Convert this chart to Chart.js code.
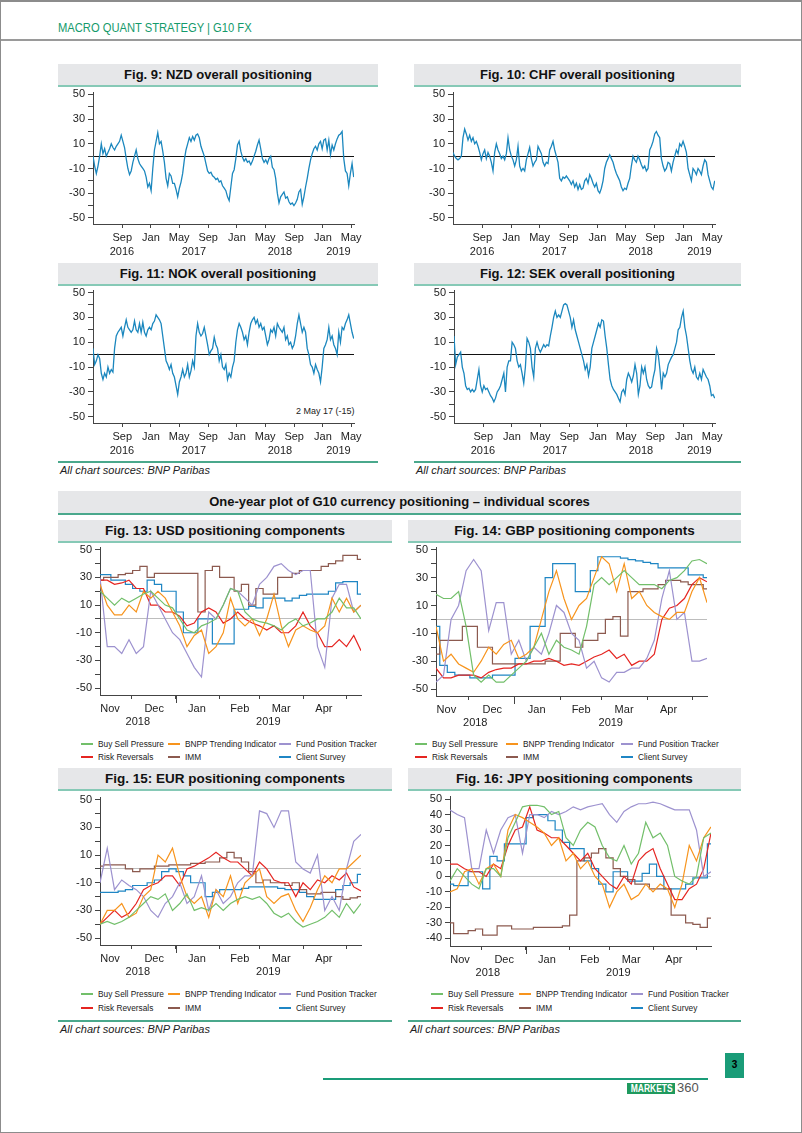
<!DOCTYPE html>
<html><head><meta charset="utf-8">
<script src="https://cdn.jsdelivr.net/npm/chart.js@4.4.1/dist/chart.umd.min.js"></script>
<style>
html,body{margin:0;padding:0;background:#fff;}
#page{position:relative;width:802px;height:1133px;overflow:hidden;font-family:"Liberation Sans",Arial,sans-serif;color:#222;}
#frame{position:absolute;left:0;top:0;width:802px;height:1133px;box-sizing:border-box;border:1px solid #8c8c8c;border-top:2px solid #8c8c8c;pointer-events:none;}
.ttl{position:absolute;background:#e6e7e9;border-bottom:2px solid #86c9b6;font-weight:bold;font-size:13px;color:#111;text-align:center;box-sizing:border-box;line-height:21px;white-space:nowrap;}
.hline{position:absolute;height:1.5px;background:#4aa88c;}
.src{position:absolute;font-style:italic;font-size:11px;color:#222;white-space:nowrap;}
.leg{position:absolute;font-size:8.3px;line-height:12px;white-space:nowrap;color:#222;}
.dash{display:inline-block;width:12px;height:2px;vertical-align:middle;margin-right:5px;position:relative;top:-1px;}
canvas{position:absolute;}
</style>
</head><body>
<div id="page">
  <div style="position:absolute;left:58px;top:20px;font-size:13px;color:#149a6b;transform:scaleX(0.86);transform-origin:left top;white-space:nowrap;">MACRO QUANT STRATEGY | G10 FX</div>
  <div style="position:absolute;left:0;top:39px;width:802px;height:1.5px;background:#9a9a9a;"></div>

  <div class="ttl" style="left:58px;top:64px;width:320px;height:23px;">Fig. 9: NZD overall positioning</div>
  <div class="ttl" style="left:414px;top:64px;width:327px;height:23px;">Fig. 10: CHF overall positioning</div>
  <div class="ttl" style="left:58px;top:263px;width:320px;height:23px;">Fig. 11: NOK overall positioning</div>
  <div class="ttl" style="left:414px;top:263px;width:327px;height:23px;">Fig. 12: SEK overall positioning</div>
  <div style="position:absolute;left:296px;top:406px;font-size:9px;color:#222;">2 May 17 (-15)</div>

  <div class="hline" style="left:58px;top:461px;width:320px;"></div>
  <div class="hline" style="left:414px;top:461px;width:327px;"></div>
  <div class="src" style="left:60px;top:464px;">All chart sources: BNP Paribas</div>
  <div class="src" style="left:416px;top:464px;">All chart sources: BNP Paribas</div>

  <div class="ttl" style="left:58px;top:491px;width:683px;height:24px;line-height:22px;border-bottom-color:#4aa88c;">One-year plot of G10 currency positioning – individual scores</div>

  <div class="ttl" style="left:58px;top:520px;width:334px;height:23px;font-size:13.5px;">Fig. 13: USD positioning components</div>
  <div class="ttl" style="left:408px;top:520px;width:333px;height:23px;font-size:13.5px;">Fig. 14: GBP positioning components</div>
  <div class="ttl" style="left:58px;top:768px;width:334px;height:23px;font-size:13.5px;">Fig. 15: EUR positioning components</div>
  <div class="ttl" style="left:408px;top:768px;width:333px;height:23px;font-size:13.5px;">Fig. 16: JPY positioning components</div>

  <div class="hline" style="left:58px;top:1020px;width:334px;"></div>
  <div class="hline" style="left:408px;top:1020px;width:333px;"></div>
  <div class="src" style="left:60px;top:1023px;">All chart sources: BNP Paribas</div>
  <div class="src" style="left:410px;top:1023px;">All chart sources: BNP Paribas</div>

  <div style="position:absolute;left:323px;top:1078px;width:385px;height:1.5px;background:#1a9c78;"></div>
  <div style="position:absolute;left:725px;top:1053px;width:19px;height:25px;background:#1a9c78;color:#000;font-weight:bold;font-size:10px;text-align:center;line-height:24px;">3</div>
  <div style="position:absolute;left:627px;top:1083px;width:48px;height:11px;background:#1f9a5e;color:#fff;font-weight:bold;font-size:10px;line-height:11px;text-align:center;overflow:hidden;"><span style="display:inline-block;transform:scaleX(0.85);">MARKETS</span></div>
  <div style="position:absolute;left:677px;top:1080px;font-size:13px;color:#555;">360</div>
  <div id="frame"></div>
</div>
<script>
// ---------------- DATA ----------------
// Overall positioning (weekly readings, start ~30 Apr 2016)
const NZD_VALUES = [0,-8,-14,-8,0,10,2,6,0,3, 6,10,7,5,8,10,12,17,12,7, -2,-10,-15,-12,-5,0,5,-2,-6,-8,
 -10,-12,-17,-25,-22,-28,-10,5,12,19, 10,12,4,-5,-18,-24,-14,-16,-22,-22, -27,-33,-26,-21,-14,-3,5,10,15,12,
 16,13,17,18,15,8,4,0,-6,-12, -14,-13,-16,-17,-19,-18,-21,-20,-24,-26, -28,-33,-36,-25,-14,-11,-2,9,12,4,
 -1,-4,-2,-5,-4,-7,-4,0,4,9, 13,6,-2,-5,-3,-6,-2,0,-9,-11, -18,-30,-38,-33,-31,-29,-34,-33,-37,-39,
 -38,-40,-38,-35,-29,-27,-39,-33,-25,-18, -10,-3,2,6,8,5,10,12,6,13, 14,5,13,1,9,5,10,14,17,18, 20,-2,-12,-14,-24,-14,-6,-17];
const CHF_VALUES = [3,0,-2,-3,-2,0,15,22,18,13, 17,12,15,10,12,8,3,-3,2,5, -2,3,0,-5,-12,3,10,5,2,-2,
 0,-3,2,15,5,0,-3,-8,-3,8, -8,-12,-10,-12,-3,2,7,-2,-8,-5, -3,8,5,2,-5,-8,-5,-6,5,8,
 12,5,0,-5,-18,-20,-17,-18,-16,-18, -20,-23,-20,-25,-22,-27,-23,-27,-26,-20, -18,-22,-15,-18,-22,-25,-22,-28,-30,-26,
 -20,-10,-5,-2,1,-2,-5,-10,-14,-17, -20,-25,-28,-26,-27,-22,-18,-8,0,-3, -5,0,-3,-7,-10,-8,-12,-10,5,8,
 12,18,20,17,15,-2,-8,-12,-10,-5, -6,-12,-5,0,5,2,10,8,12,8, 3,-10,-15,-20,-10,-12,-15,-10,-12,-15, -8,-3,-5,-15,-20,-25,-27,-20];
const NOK_VALUES = [5,-8,-5,0,-3,-15,-20,-15,-18,-10, -15,-12,-14,5,15,18,20,22,15,22, 28,22,20,18,20,27,20,18,25,18,
 26,18,15,20,22,20,25,27,32,30, 28,25,15,5,-5,-8,-12,-8,-15,-18, -25,-32,-22,-18,-12,-18,-15,-8,-18,-13,
 -5,-10,15,25,18,15,17,22,15,8, 0,3,5,14,8,5,-5,0,-10,-12, -8,-20,-15,-18,-10,-5,10,20,25,22,
 18,12,15,8,18,25,28,30,25,28, 22,25,20,22,15,8,12,20,18,22, 15,25,22,20,18,22,12,15,8,10,
 5,8,15,25,32,25,18,22,18,5, 0,-8,-10,-15,-8,-12,-15,-22,-10,5, 8,12,22,12,15,8,5,0,18,10, 22,20,25,28,32,25,18,13];
const SEK_VALUES = [15,-8,-2,0,2,-10,-15,-25,-28,-27, -30,-28,-30,-28,-20,-12,-25,-30,-25,-28, -27,-30,-33,-35,-38,-35,-30,-28,-25,-20,
 -15,-30,-10,-5,-5,10,8,5,-5,-10, -8,-15,-23,-10,13,10,5,-10,-18,5, 10,5,2,5,8,6,8,7,15,22,
 30,35,30,32,30,35,40,41,40,35, 30,22,28,20,15,10,5,0,-5,-12, -8,-17,-10,5,10,15,20,25,22,28,
 27,15,5,-8,-20,-25,-28,-30,-32,-35, -38,-30,-28,-32,-20,-15,-18,-22,-17,-8, -15,-32,-25,-10,-15,-10,-20,-25,-27,-26,
 -18,-12,5,0,-12,-28,-15,-18,-15,-8, -5,-2,0,5,10,20,22,30,35,22, 15,5,-5,-12,-15,-10,-18,-20,-15,-20, -12,-15,-18,-20,-25,-33,-32,-35];

// Days counted from 1 Jan 2016
const TOP_START_DAY = 120, TOP_STEP_DAYS = 7.05, TOP_END_DAY = 1228;
const TOP_MONTH_DAYS = [244,366,486,609,731,851,974,1096,1216];
const TOP_MONTH_LABELS = ['Sep','Jan','May','Sep','Jan','May','Sep','Jan','May'];
const TOP_YEARS = ['2016','2017','2018','2019'];
const TOP_YEAR_BOUNDS = [120,366,731,1096,1228];
const TOP_Y_TICKS = [-50,-40,-30,-20,-10,0,10,20,30,40,50];
const TOP_Y_LABELLED = [-50,-30,-10,10,30,50];

// Components (readings every ~5 days, day 0 = 9 Nov 2018)
const SERIES_NAMES = ['Buy Sell Pressure','BNPP Trending Indicator','Fund Position Tracker','Risk Reversals','IMM','Client Survey'];
const USD_BUY_SELL = [20,15,10,15,12,15,18,20,15,10,8,0,-8,-10,-5,-3,0,10,22,20,5,0,-2,-3,-5,-8,-3,0,-5,-3,0,0,5,15,8,8,0];
const USD_TRENDING = [25,10,3,3,10,5,20,15,20,15,5,-5,-20,-12,-8,-25,-20,-10,15,0,-5,0,-12,0,18,-5,-20,-8,-5,-8,-10,-5,15,5,15,5,10];
const USD_FUND_POS = [30,-20,-20,-25,-15,-25,-20,20,10,0,-10,-15,-25,-35,-42,5,0,10,22,20,15,10,25,30,38,40,35,32,35,35,-20,-35,15,25,25,5,10];
const USD_RISK_REV = [28,28,25,26,28,22,22,10,10,5,5,2,-5,-3,5,8,5,-3,0,5,0,-3,-5,-8,-5,-10,-10,-5,5,-5,-10,-20,-20,-15,-20,-12,-23];
const USD_IMM = [28,30,30,32,33,35,38,30,33,33,33,33,33,33,5,35,38,30,30,20,25,10,22,18,18,30,30,33,35,35,35,38,40,42,46,46,43];
const USD_CLIENT = [32,32,28,28,25,22,20,28,25,20,20,5,-10,-10,0,0,-18,-18,-18,7,7,9,8,15,15,15,13,15,17,18,18,18,20,26,27,27,18];

const GBP_BUY_SELL = [18,15,15,20,-5,-40,-45,-40,-45,-45,-40,-35,-30,-20,-10,-25,-15,-20,-22,-25,-5,25,30,25,30,35,30,25,25,25,22,28,30,35,42,43,40];
const GBP_TRENDING = [-5,-30,-25,-32,-35,-38,-30,-20,-25,-18,-15,-28,-25,-20,0,20,35,15,0,10,15,30,45,40,20,40,15,20,10,5,2,0,5,5,20,30,12];
const GBP_FUND_POS = [-45,-40,0,10,35,43,35,-8,12,12,-25,-15,-30,-20,-25,-10,10,5,-10,-15,-35,-30,-42,-45,-38,-38,-35,-35,-28,-15,15,35,0,5,-30,-30,-28];
const GBP_RISK_REV = [-35,-42,-42,-40,-40,-40,-42,-38,-36,-35,-35,-32,-32,-30,-30,-28,-30,-33,-32,-33,-30,-27,-25,-22,-28,-25,-33,-30,-30,-25,0,8,10,15,25,30,27];
const GBP_IMM = [-25,-15,-15,-15,-5,-5,-20,-20,-32,-32,-32,-32,-32,-32,-32,-30,-30,-10,-10,-20,-15,-15,-10,0,2,-12,20,20,22,22,25,28,28,27,25,25,22];
const GBP_CLIENT = [-5,-33,-38,-40,-40,-42,-42,-42,-40,-40,-40,-28,-28,-5,-5,30,40,40,40,20,20,35,45,45,45,44,43,42,41,40,37,37,37,37,32,32,30];

const EUR_BUY_SELL = [-40,-38,-40,-38,-35,-30,-25,-20,-22,-18,-30,-25,-18,-30,-28,-30,-25,-30,-25,-22,-20,-22,-20,-25,-32,-35,-32,-38,-42,-40,-38,-35,-30,-35,-25,-32,-25];
const EUR_TRENDING = [-40,-30,-30,-25,-35,-32,-20,-15,10,5,15,-5,-20,-25,-20,-35,-15,-20,-5,-25,-10,-5,0,-20,-25,-20,-18,-30,-38,-28,-15,-5,-10,0,0,5,10];
const EUR_FUND_POS = [-10,15,-15,-8,-12,-15,-20,-30,-35,-25,-20,-10,-25,-20,-5,-30,-15,-25,-20,-10,-5,-5,42,40,30,42,42,5,0,-3,10,-30,-20,-30,0,20,25];
const EUR_RISK_REV = [-40,-35,-30,-35,-32,-25,-15,-12,-10,-5,-5,-12,0,2,5,8,12,8,5,5,0,-5,5,0,-8,-10,-10,-20,-10,-15,-8,-10,-5,-8,-3,-13,-16];
const EUR_IMM = [2,3,3,3,0,-2,0,0,2,2,3,3,3,4,4,5,5,8,12,8,5,-2,-10,-8,-10,-10,-12,-10,-15,-18,-18,-17,-17,-20,-22,-21,-20];
const EUR_CLIENT = [-17,-17,-17,-16,-15,-12,-12,-10,-8,-2,0,-2,-5,-10,-10,-20,-17,-15,-15,-15,-14,-13,-13,-13,-13,-14,-15,-15,-17,-20,-22,-22,-22,-15,-12,-10,-4];

const JPY_BUY_SELL = [-3,5,0,-5,-8,5,5,0,25,35,45,46,46,45,40,42,25,20,30,35,32,20,12,10,20,8,15,35,25,28,20,0,-3,-5,0,25,28];
const JPY_TRENDING = [-10,-8,3,5,-5,5,8,0,30,40,38,35,32,28,20,25,10,15,5,10,0,-5,-20,-10,-5,-15,-12,-5,-10,-5,-8,-20,-5,20,10,25,32];
const JPY_FUND_POS = [43,40,38,5,5,30,15,30,38,40,15,40,40,38,42,40,42,45,43,45,46,47,40,35,42,45,47,47,48,47,45,43,43,43,30,0,3];
const JPY_RISK_REV = [8,8,5,3,3,0,8,5,20,30,32,45,30,28,25,25,20,15,10,15,5,0,-5,-8,0,-5,10,15,18,5,-5,-15,-15,-8,-5,5,28];
const JPY_IMM = [-30,-37,-37,-35,-34,-38,-38,-32,-32,-34,-34,-34,-33,-33,-33,-33,-32,-25,10,12,15,18,12,5,0,-2,-5,-5,-8,-8,-8,-25,-25,-30,-31,-33,-27];
const JPY_CLIENT = [-5,-6,-6,3,3,-8,13,10,21,21,21,38,40,40,36,30,22,18,18,10,5,-5,-10,3,3,-3,-3,2,8,0,-8,-8,-8,-5,-1,-1,21];

const BOT_END_DAY = 183;
const BOT_MONTH_START_DAYS = [22,53,84,112,143,173];
const BOT_MONTH_MID_DAYS = [7,38,68,98,127,157];
const BOT_MONTH_LABELS = ['Nov','Dec','Jan','Feb','Mar','Apr'];
const BOT_YEARS = ['2018','2019'];
const BOT_YEAR_BOUNDS = [0,53,183];
const BOT_JAN_DAY = 53;
const JPY_Y_TICKS = [-40,-30,-20,-10,0,10,20,30,40,50];

// ---------------- STYLE / LAYOUT ----------------
const SERIES_COLORS = ['#72bf6a','#f7941d','#9d92cf','#e52521','#8c5a4f','#1f86c4'];
const TOP_LINE_COLOR = '#1b87be';
const GEOM = {
  nzd:{L:93,T:92,R:354,B:224}, chf:{L:453,T:92,R:715,B:224},
  nok:{L:93,T:290,R:354,B:423}, sek:{L:454,T:290,R:715,B:423},
  usd:{L:100,T:547,R:361,B:695}, gbp:{L:436,T:547,R:707,B:696},
  eur:{L:100,T:797,R:361,B:945}, jpy:{L:450,T:796,R:711,B:946}
};
const PADL=45, PADT=12, PADR=15, PADB=40;
const FONT = {family:'"Liberation Sans", Arial, sans-serif', size:11};
Chart.defaults.font.family = FONT.family;

const page = document.getElementById('page');

const yearPlugin = {
  id:'yearLabels',
  afterDraw(chart, args, o) {
    const xs = chart.scales.x, ctx = chart.ctx;
    ctx.save();
    ctx.font = '11px "Liberation Sans", Arial, sans-serif';
    ctx.fillStyle = '#222'; ctx.textAlign = 'center'; ctx.textBaseline = 'middle';
    o.years.forEach((y,i)=>{
      const mid = (o.bounds[i]+o.bounds[i+1])/2;
      ctx.fillText(y, xs.getPixelForValue(mid), xs.top + o.yOff);
    });
    if (o.janDay != null) {
      const x = Math.round(xs.getPixelForValue(o.janDay)) + 0.5;
      ctx.strokeStyle = '#444'; ctx.lineWidth = 1;
      ctx.beginPath(); ctx.moveTo(x, xs.top); ctx.lineTo(x, xs.top + 8); ctx.stroke();
    }
    ctx.restore();
  }
};

function makeChart(key, datasets, cfg) {
  const g = GEOM[key];
  const cv = document.createElement('canvas');
  const w = (g.R + PADR) - (g.L - PADL), h = (g.B + PADB) - (g.T - PADT);
  cv.width = w; cv.height = h;
  cv.style.left = (g.L - PADL) + 'px'; cv.style.top = (g.T - PADT) + 'px';
  cv.style.width = w + 'px'; cv.style.height = h + 'px';
  page.insertBefore(cv, document.getElementById('frame'));
  new Chart(cv.getContext('2d'), {
    type:'line',
    data:{datasets},
    options:{
      responsive:false, animation:false, devicePixelRatio:1,
      layout:{padding:{top:PADT,right:PADR,left:0,bottom:0}},
      plugins:{legend:{display:false}, tooltip:{enabled:false},
        yearLabels:{years:cfg.years, bounds:cfg.yearBounds, janDay:cfg.janDay, yOff:cfg.yearOff}},
      elements:{point:{radius:0}, line:{tension:0}},
      scales:{
        x:{type:'linear', min:cfg.xMin, max:cfg.xMax,
          afterFit:s=>{s.height = PADB;},
          afterBuildTicks:s=>{s.ticks = cfg.xTicks.map(v=>({value:v}));},
          ticks:{autoSkip:false, maxRotation:0, padding:3, font:FONT, color:'#222',
            callback:(v,i)=>cfg.xLabels[i]},
          grid:{drawOnChartArea:false, tickLength:4, lineWidth:1, color:'#444',
            tickColor:(c)=> (cfg.xTickHidden && cfg.xTickHidden[c.index]) ? 'rgba(0,0,0,0)' : '#444'},
          border:{display:true, color:'#444', width:1}},
        y:{type:'linear', min:cfg.yMin, max:cfg.yMax,
          afterFit:s=>{s.width = PADL;},
          afterBuildTicks:s=>{s.ticks = cfg.yTicks.map(v=>({value:v}));},
          ticks:{autoSkip:false, padding:3, font:FONT, color:'#222',
            callback:(v)=> cfg.yLabelled.includes(v) ? String(v) : ''},
          grid:{drawOnChartArea:true, tickLength:5, lineWidth:1, tickWidth:1, tickColor:'#444',
            color:(c)=> (c.tick && c.tick.value === 0) ? cfg.zeroColor : 'rgba(0,0,0,0)'},
          border:{display:true, color:'#444', width:1}}
      }
    },
    plugins:[yearPlugin]
  });
}

// Top charts
function topChart(key, values) {
  const pts = values.map((v,i)=>({x: TOP_START_DAY + i*TOP_STEP_DAYS, y: v}));
  makeChart(key, [{data:pts, borderColor:TOP_LINE_COLOR, borderWidth:1.3}], {
    xMin:TOP_START_DAY, xMax:TOP_END_DAY, xTicks:TOP_MONTH_DAYS, xLabels:TOP_MONTH_LABELS,
    years:TOP_YEARS, yearBounds:TOP_YEAR_BOUNDS, janDay:null, yearOff:28,
    yMin:-55, yMax:52, yTicks:TOP_Y_TICKS, yLabelled:TOP_Y_LABELLED, zeroColor:'#111'
  });
}
topChart('nzd', NZD_VALUES);
topChart('chf', CHF_VALUES);
topChart('nok', NOK_VALUES);
topChart('sek', SEK_VALUES);

// Bottom charts
const botTickList = BOT_MONTH_START_DAYS.map(d=>({d, mid:false}))
  .concat(BOT_MONTH_MID_DAYS.map((d,i)=>({d, mid:true, label:BOT_MONTH_LABELS[i]})))
  .sort((a,b)=>a.d-b.d);
const BOT_X_TICKS = botTickList.map(t=>t.d);
const BOT_X_LABELS = botTickList.map(t=>t.mid ? t.label : '');
const BOT_X_HIDDEN = botTickList.map(t=>t.mid);

function botChart(key, series, yMin, yTicks, yLabelled) {
  const step = BOT_END_DAY / (series[0].length - 1);
  const ds = series.map((vals, k)=>({
    label: SERIES_NAMES[k],
    data: vals.map((v,i)=>({x:i*step, y:v})),
    borderColor: SERIES_COLORS[k], borderWidth:1.2,
    stepped: (k === 4 || k === 5) ? 'middle' : false
  }));
  makeChart(key, ds, {
    xMin:0, xMax:BOT_END_DAY, xTicks:BOT_X_TICKS, xLabels:BOT_X_LABELS, xTickHidden:BOT_X_HIDDEN,
    years:BOT_YEARS, yearBounds:BOT_YEAR_BOUNDS, janDay:BOT_JAN_DAY, yearOff:27,
    yMin:yMin, yMax:52, yTicks:yTicks, yLabelled:yLabelled, zeroColor:'#bdbdbd'
  });
}
botChart('usd', [USD_BUY_SELL,USD_TRENDING,USD_FUND_POS,USD_RISK_REV,USD_IMM,USD_CLIENT], -55, TOP_Y_TICKS, TOP_Y_LABELLED);
botChart('gbp', [GBP_BUY_SELL,GBP_TRENDING,GBP_FUND_POS,GBP_RISK_REV,GBP_IMM,GBP_CLIENT], -55, TOP_Y_TICKS, TOP_Y_LABELLED);
botChart('eur', [EUR_BUY_SELL,EUR_TRENDING,EUR_FUND_POS,EUR_RISK_REV,EUR_IMM,EUR_CLIENT], -55, TOP_Y_TICKS, TOP_Y_LABELLED);
botChart('jpy', [JPY_BUY_SELL,JPY_TRENDING,JPY_FUND_POS,JPY_RISK_REV,JPY_IMM,JPY_CLIENT], -45, JPY_Y_TICKS, JPY_Y_TICKS);

// Legends
function buildLegend(colX, rowY) {
  SERIES_NAMES.forEach((name,i)=>{
    const col = i % 3, row = Math.floor(i / 3);
    const d = document.createElement('div');
    d.className = 'leg';
    d.style.left = (colX[col] - 17) + 'px';
    d.style.top = (rowY[row] - 6) + 'px';
    const s = document.createElement('span');
    s.className = 'dash'; s.style.background = SERIES_COLORS[i];
    d.appendChild(s);
    d.appendChild(document.createTextNode(name));
    page.insertBefore(d, document.getElementById('frame'));
  });
}
buildLegend([98,185,296],[744,757]);
buildLegend([432,523,638],[744,757]);
buildLegend([98,185,296],[994,1008]);
buildLegend([448,536,648],[994,1008]);
</script>
</body></html>
